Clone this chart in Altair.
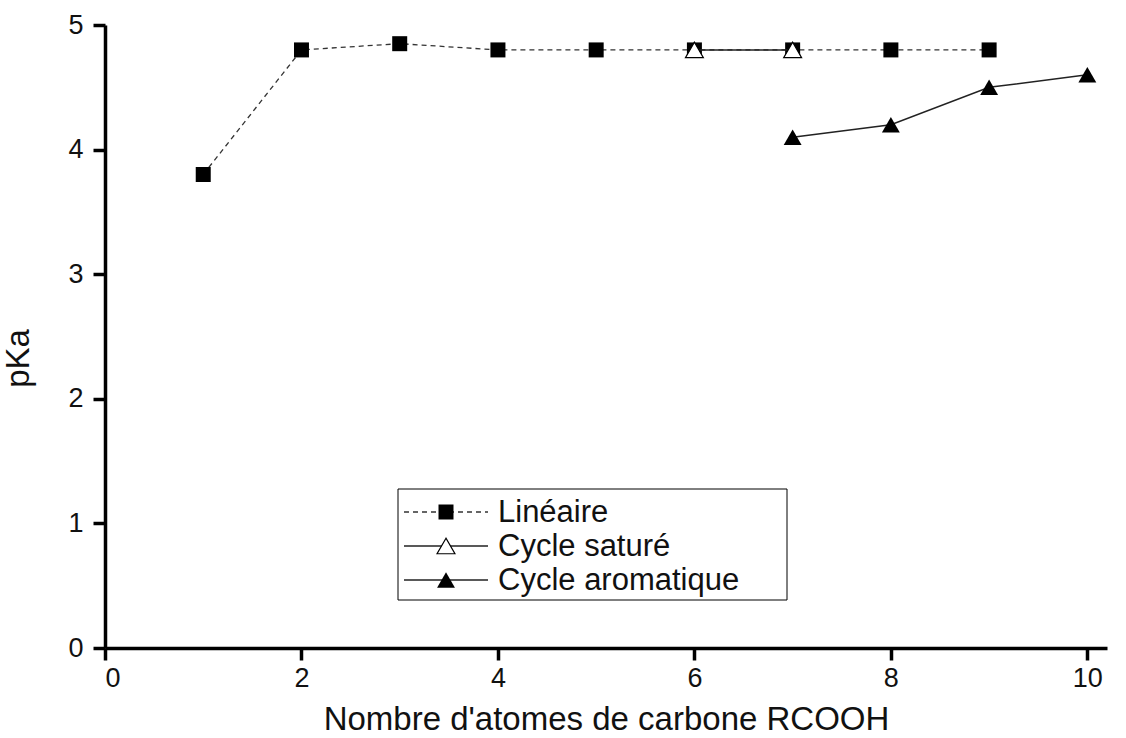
import altair as alt
import pandas as pd

# pKa of carboxylic acids RCOOH versus number of carbon atoms
lin_c = [1, 2, 3, 4, 5, 6, 7, 8, 9]
lin_pka = [3.8, 4.8, 4.85, 4.8, 4.8, 4.8, 4.8, 4.8, 4.8]

sat_c = [6, 7]
sat_pka = [4.8, 4.8]

aro_c = [7, 8, 9, 10]
aro_pka = [4.1, 4.2, 4.5, 4.6]

x_ticks = [0, 2, 4, 6, 8, 10]
y_ticks = [0, 1, 2, 3, 4, 5]

legend_names = ["Linéaire", "Cycle saturé", "Cycle aromatique"]

FONT = "Liberation Sans"

lin = pd.DataFrame({"c": lin_c, "pka": lin_pka})
sat = pd.DataFrame({"c": sat_c, "pka": sat_pka})
aro = pd.DataFrame({"c": aro_c, "pka": aro_pka})

x_enc = alt.X(
    "c:Q",
    scale=alt.Scale(domain=[0, 10.2], nice=False, zero=False),
    axis=alt.Axis(
        values=x_ticks,
        title="Nombre d'atomes de carbone RCOOH",
        titlePadding=12,
        labelPadding=5,
    ),
)
y_enc = alt.Y(
    "pka:Q",
    scale=alt.Scale(domain=[0, 5], nice=False),
    axis=alt.Axis(
        values=y_ticks,
        title="pKa",
        titleX=-87,
        titleY=333,
        titleBaseline="middle",
        labelPadding=10,
    ),
)

lin_line = alt.Chart(lin).mark_line(
    color="#333333", strokeWidth=1.3, strokeDash=[5, 4]
).encode(x=x_enc, y=y_enc)
lin_pts = alt.Chart(lin).mark_point(
    shape="square", size=225, filled=True, color="black", opacity=1
).encode(x=x_enc, y=y_enc)

sat_line = alt.Chart(sat).mark_line(color="#222222", strokeWidth=1.5).encode(x=x_enc, y=y_enc)
sat_pts = alt.Chart(sat).mark_point(
    shape="triangle-up", size=320, filled=True, fill="white", stroke="black",
    strokeWidth=1.2, opacity=1
).encode(x=x_enc, y=y_enc)

aro_line = alt.Chart(aro).mark_line(color="#222222", strokeWidth=1.5).encode(x=x_enc, y=y_enc)
aro_pts = alt.Chart(aro).mark_point(
    shape="triangle-up", size=320, filled=True, color="black", opacity=1
).encode(x=x_enc, y=y_enc)

# Legend box drawn inside the plot area
one = pd.DataFrame({"k": [0]})
box = alt.Chart(one).mark_rect(fill="white", stroke="black", strokeWidth=1).encode(
    x=alt.value(293), x2=alt.value(682), y=alt.value(464), y2=alt.value(575)
)

rows_y = [487, 521, 555]
legend_layers = [box]
for i, name in enumerate(legend_names):
    yy = rows_y[i]
    if i == 0:
        rule = alt.Chart(one).mark_rule(color="#333333", strokeWidth=1.3, strokeDash=[5, 4])
    else:
        rule = alt.Chart(one).mark_rule(color="#222222", strokeWidth=1.5)
    legend_layers.append(rule.encode(x=alt.value(299), x2=alt.value(383), y=alt.value(yy)))
    if i == 0:
        sym = alt.Chart(one).mark_point(shape="square", size=225, filled=True, color="black", opacity=1)
    elif i == 1:
        sym = alt.Chart(one).mark_point(shape="triangle-up", size=320, filled=True,
                                        fill="white", stroke="black", strokeWidth=1.2, opacity=1)
    else:
        sym = alt.Chart(one).mark_point(shape="triangle-up", size=320, filled=True,
                                        color="black", opacity=1)
    legend_layers.append(sym.encode(x=alt.value(341), y=alt.value(yy)))
    legend_layers.append(
        alt.Chart(one).mark_text(
            text=name, align="left", baseline="middle", font=FONT, fontSize=31, color="#111111"
        ).encode(x=alt.value(393), y=alt.value(yy + 1))
    )

chart = alt.layer(
    lin_line, lin_pts, sat_line, sat_pts, aro_line, aro_pts, *legend_layers
).properties(
    width=1002,
    height=623,
    autosize=alt.AutoSizeParams(type="none"),
    padding={"left": 105, "top": 25, "right": 19, "bottom": 90},
    background="white",
).configure_view(
    stroke=None
).configure_axis(
    grid=False,
    domainColor="black",
    domainWidth=3.5,
    tickColor="black",
    tickWidth=3.5,
    tickSize=12,
    labelFont=FONT,
    labelFontSize=27,
    labelColor="#111111",
    titleFont=FONT,
    titleFontSize=33,
    titleFontWeight="normal",
    titleColor="#111111",
)

chart.save("out.html", embed_options={"renderer": "svg", "actions": False})
